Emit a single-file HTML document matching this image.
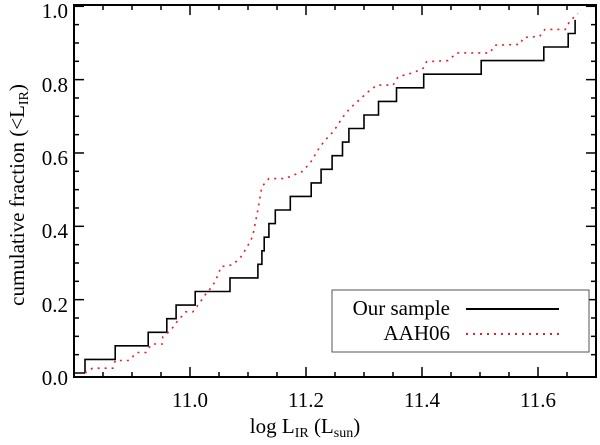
<!DOCTYPE html>
<html><head><meta charset="utf-8"><style>
body{margin:0;background:#fff;}
svg text{font-family:"Liberation Serif",serif;fill:#000;}
</style></head><body>
<svg id="chart" width="600" height="440" font-family="Liberation Serif, serif">
<g id="axes"></g>
<g id="series"></g>
<g id="x-tick-labels" font-size="21" text-anchor="middle" style="font-family:'Liberation Serif',serif">
  <text x="190" y="407">11.0</text>
  <text x="306" y="407">11.2</text>
  <text x="422" y="407">11.4</text>
  <text x="538" y="407">11.6</text>
</g>
<g id="y-tick-labels" font-size="21" text-anchor="end" style="font-family:'Liberation Serif',serif">
  <text x="68" y="385">0.0</text>
  <text x="68" y="312">0.2</text>
  <text x="68" y="238">0.4</text>
  <text x="68" y="165">0.6</text>
  <text x="68" y="92">0.8</text>
  <text x="68" y="18">1.0</text>
</g>
<g id="legend">
  <rect x="332" y="290" width="257" height="62" fill="#fff" stroke="#555" stroke-width="1"/>
  <text x="450" y="315" font-size="21" text-anchor="end">Our sample</text>
  <line x1="466" y1="309" x2="559" y2="309" stroke="#000" stroke-width="2"/>
  <text x="450" y="340" font-size="21" text-anchor="end">AAH06</text>
  <line x1="466" y1="334" x2="559" y2="334" stroke="#e0202a" stroke-width="2" stroke-dasharray="2,5"/>
</g>
<text x="305" y="433" font-size="21" text-anchor="middle">log L<tspan font-size="14" dy="4">IR</tspan><tspan dy="-4"> (L</tspan><tspan font-size="14" dy="4">sun</tspan><tspan dy="-4">)</tspan></text>
<text transform="translate(24,195) rotate(-90)" font-size="21" text-anchor="middle">cumulative fraction (&lt;L<tspan font-size="14" dy="4">IR</tspan><tspan dy="-4">)</tspan></text>
</svg>
<script>
const ourX=[10.819,10.871,10.928,10.960,10.976,11.009,11.069,11.117,11.124,11.128,11.136,11.147,11.173,11.209,11.226,11.245,11.263,11.274,11.300,11.325,11.356,11.403,11.502,11.610,11.652,11.664];
const ourN=27;
const aahX=[10.819,10.832,10.867,10.871,10.895,10.908,10.924,10.934,10.952,10.953,10.967,10.979,10.993,11.005,11.017,11.028,11.039,11.050,11.053,11.074,11.088,11.099,11.108,11.117,11.124,11.136,11.164,11.193,11.207,11.224,11.236,11.247,11.264,11.276,11.293,11.305,11.322,11.350,11.359,11.385,11.402,11.408,11.445,11.460,11.517,11.526,11.569,11.575,11.603,11.612,11.647,11.655,11.669];
const aahF=[0,0.013,0.013,0.034,0.034,0.056,0.056,0.079,0.079,0.098,0.117,0.143,0.167,0.167,0.192,0.217,0.237,0.273,0.29,0.295,0.317,0.345,0.372,0.445,0.508,0.53,0.53,0.549,0.572,0.617,0.64,0.658,0.699,0.722,0.746,0.764,0.785,0.785,0.808,0.819,0.831,0.849,0.852,0.873,0.873,0.894,0.896,0.915,0.918,0.937,0.937,0.96,0.98];

const L=74,R=596,T=5,B=377;
const xmin=10.8,xmax=11.7;
const sx=v=>L+(v-xmin)/(xmax-xmin)*(R-L);
const sy=f=>373-f*366.7;
const NS="http://www.w3.org/2000/svg";
const axes=document.getElementById('axes'),ser=document.getElementById('series');
function mk(tag,at,parent){const e=document.createElementNS(NS,tag);for(const k in at)e.setAttribute(k,at[k]);parent.appendChild(e);return e;}

let d="M"+L+","+sy(0)+" H"+sx(ourX[0]);
ourX.forEach((x,i)=>{d+=" H"+sx(x).toFixed(1)+" V"+sy((i+1)/ourN).toFixed(1);});
const p1=mk('path',{d:d,fill:'none',stroke:'#000','stroke-width':1.6},ser);


let d2="";
aahX.forEach((x,i)=>{d2+=(i?" L":"M")+sx(x).toFixed(1)+","+sy(aahF[i]).toFixed(1);});
const p2=mk('path',{d:d2,fill:'none',stroke:'#e0202a','stroke-width':1.6,'stroke-dasharray':'2,5'},ser);



const fr=mk('rect',{x:L,y:T,width:R-L,height:B-T,fill:'none',stroke:'#000','stroke-width':2},axes);


for(let v=10.85;v<11.7;v+=0.05){
  const X=sx(v);const maj=Math.abs(v*5-Math.round(v*5))<1e-6;const len=maj?10:5;
  mk('line',{x1:X,y1:B,x2:X,y2:B-len,stroke:'#000','stroke-width':1.5},axes);
  mk('line',{x1:X,y1:T,x2:X,y2:T+len,stroke:'#000','stroke-width':1.5},axes);
}
for(let k=1;k<21;k++){
  const f=k*0.05;const Y=sy(f);const maj=k%4==0;const len=maj?10:5;
  mk('line',{x1:L,y1:Y,x2:L+len,y2:Y,stroke:'#000','stroke-width':1.5},axes);
  mk('line',{x1:R,y1:Y,x2:R-len,y2:Y,stroke:'#000','stroke-width':1.5},axes);
}
</script>
</body></html>
